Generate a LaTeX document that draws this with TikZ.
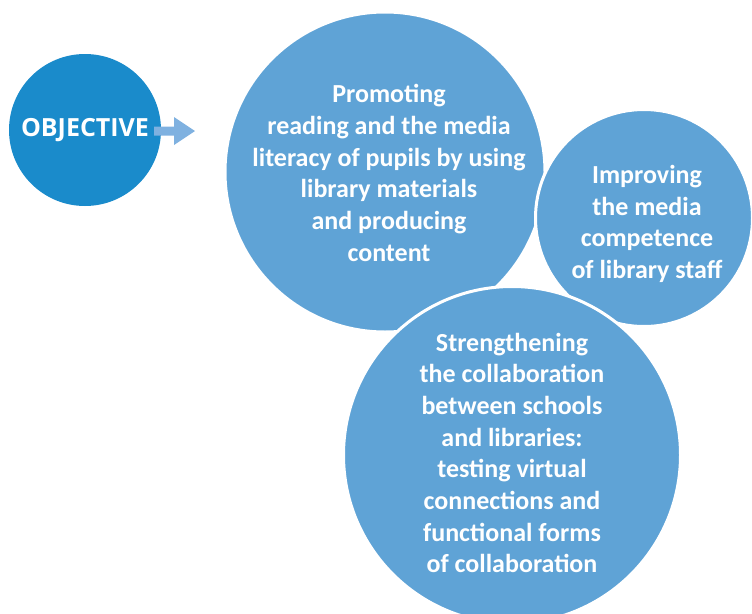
\documentclass[tikz,border=0pt]{standalone}
\usepackage{fontspec}
\setmainfont{Carlito}
\newfontfamily\objfont{Open Sans}
\usepackage{tikz}
\usetikzlibrary{positioning}

\definecolor{objblue}{HTML}{1A8BCB}
\definecolor{aimblue}{HTML}{5FA3D6}
\definecolor{arrowblue}{HTML}{7FB1E0}

\begin{document}
\begin{tikzpicture}[x=1pt,y=-1pt,
		goal/.style={circle,fill=objblue,text=white,minimum size=152pt,inner sep=0pt,
			font=\objfont\bfseries\fontsize{25}{28}\selectfont},
		aim/.style={circle,fill=aimblue,draw=white,line width=3pt,inner sep=0pt},
		aimtext/.style={text=white,align=center,inner sep=0pt,
			font=\bfseries\fontsize{26}{31.7}\selectfont}]
			\useasboundingbox (0,0) rectangle (752,613);
			\node[goal] (objective) at (85,130) {OBJECTIVE};
			% aims, back to front
			\node[aim,minimum size=320pt] (reading) at (385,172) {};
			\node[aimtext] (readingtext) at ([xshift=4pt,yshift=-1pt]reading.center) {Promoting\\reading and the media\\literacy of pupils by using\\library materials\\and producing\\content};
			\node[aim,minimum size=217pt] (staff) at (644,218) {};
			\node[aimtext] (stafftext) at ([xshift=3pt,yshift=-6pt]staff.center) {Improving\\the media\\competence\\of library staff};
			\node[aim,minimum size=337pt] (collab) at (512,455) {};
			\node[aimtext] (collabtext) at ([yshift=2pt]collab.center) {Strengthening\\the collaboration\\between schools\\and libraries:\\testing virtual\\connections and\\functional forms\\of collaboration};
			% block arrow
			\fill[arrowblue] (154,126.5) -- (174,126.5) -- (174,117) -- (195,131)
				-- (174,145) -- (174,135.5) -- (154,135.5) -- cycle;
		\end{tikzpicture}
\end{document}
